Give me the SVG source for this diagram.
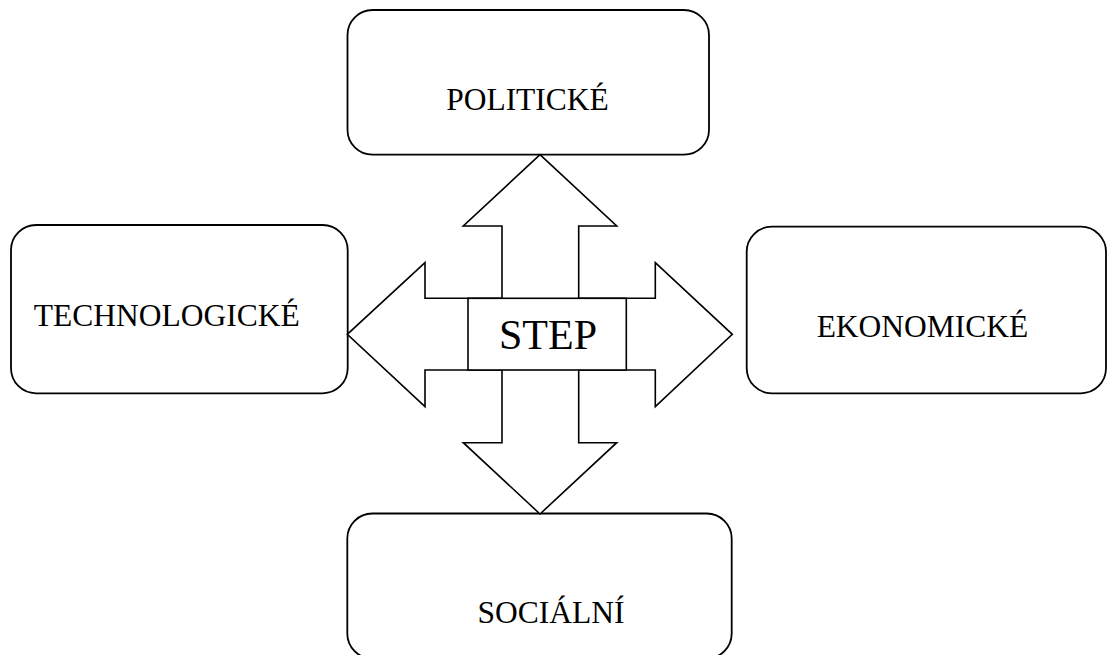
<svg xmlns="http://www.w3.org/2000/svg" width="1108" height="655" viewBox="0 0 1108 655">
<style>
.box{fill:#fff;stroke:#000;stroke-width:1.8}
.arr{fill:#fff;stroke:#000;stroke-width:1.6;stroke-linejoin:miter}
.lbl{font-family:"Liberation Serif","Times New Roman",serif;font-size:31.5px;fill:#000;text-anchor:middle}
.big{font-size:42px}
</style>
<rect width="1108" height="655" fill="#fff"/>
<g id="node-politicke">
<rect class="box" x="347.5" y="10" width="361.5" height="144.7" rx="25" ry="25"/>
<text class="lbl" x="527.5" y="110">POLITICKÉ</text>
</g>
<g id="node-technologicke">
<rect class="box" x="11" y="225" width="336.7" height="168.3" rx="25" ry="25"/>
<text class="lbl" x="166.7" y="326">TECHNOLOGICKÉ</text>
</g>
<g id="node-ekonomicke">
<rect class="box" x="746.7" y="226.7" width="359.3" height="166.6" rx="25" ry="25"/>
<text class="lbl" x="922.5" y="337">EKONOMICKÉ</text>
</g>
<g id="node-socialni">
<rect class="box" x="347.3" y="513.5" width="384.4" height="145" rx="25" ry="25"/>
<text class="lbl" x="551" y="623.3">SOCIÁLNÍ</text>
</g>
<g id="connectors">
<path class="arr" d="M540,154.7 L616.7,226 L578.7,226 L578.7,298.3 L655.3,298.3 L655.3,262.7 L732.3,334.3 L655.3,406.7 L655.3,370 L578.7,370 L578.7,442.7 L616.7,442.7 L540,514 L463.3,442.7 L502,442.7 L502,370 L425,370 L425,406.7 L347.3,334.3 L425,262.7 L425,298.3 L502,298.3 L502,226 L463.3,226 Z"/>
</g>
<g id="node-step">
<rect class="arr" x="468" y="298.3" width="158.3" height="71.7"/>
<text class="lbl big" x="548" y="349.3">STEP</text>
</g>
</svg>
